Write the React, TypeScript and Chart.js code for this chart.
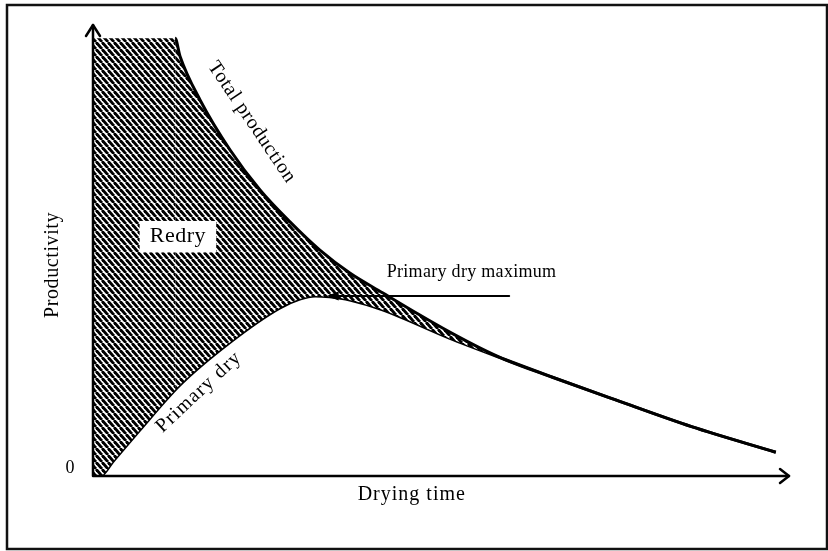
import { useEffect, useRef } from 'react';
import { Chart, registerables } from 'chart.js';
Chart.register(...registerables);

// Total production curve (arbitrary units: time 0..100, productivity 0..100)
const totalX = [0, 11.8, 12.5, 15.4, 19.7, 24.0, 28.3, 32.6, 36.9, 41.6, 46.9, 51.2, 55.5, 59.1, 66, 75, 86, 98.1];
const totalY = [97.5, 97.5, 93.5, 83.7, 72.6, 63.7, 56.6, 50.3, 45.2, 40.8, 35.9, 32.1, 28.6, 26.0, 22.0, 17.0, 11.0, 5.3];
// Primary dry curve
const primaryX = [0, 1.0, 2.9, 6.7, 12.5, 19.7, 26.8, 29.7, 31.9, 34.0, 36.9, 41.6, 51.2, 59.1, 66, 75, 86, 98.1];
const primaryY = [0, 0, 3.3, 10.2, 20.3, 29.8, 37.4, 39.4, 40.1, 39.9, 39.2, 37.0, 30.7, 26.0, 22.0, 17.0, 11.0, 5.3];

const labelTotal = 'Total production';
const labelPrimary = 'Primary dry';
const labelRedry = 'Redry';
const labelMax = 'Primary dry maximum';
const axisX = 'Drying time';
const axisY = 'Productivity';
const zeroTick = '0';

const FONT = '"Liberation Serif", "DejaVu Serif", serif';

function makePattern(): CanvasPattern | string {
  const c = document.createElement('canvas');
  const w = 6, h = 7;
  c.width = w; c.height = h;
  const g = c.getContext('2d');
  if (!g) return '#444';
  g.fillStyle = '#fff';
  g.fillRect(0, 0, w, h);
  g.strokeStyle = '#000';
  g.lineWidth = 2.8;
  for (let k = -1; k <= 1; k++) {
    g.beginPath();
    g.moveTo(k * w, 0);
    g.lineTo(k * w + w, h);
    g.stroke();
  }
  return g.createPattern(c, 'repeat') || '#444';
}

const decoPlugin = {
  id: 'deco',
  beforeDraw(chart: any) {
    const ctx = chart.ctx;
    ctx.save();
    ctx.fillStyle = '#fff';
    ctx.fillRect(0, 0, chart.width, chart.height);
    ctx.strokeStyle = '#111';
    ctx.lineWidth = 2.5;
    ctx.strokeRect(7, 5, chart.width - 8, chart.height - 7);
    ctx.restore();
  },
  afterDatasetsDraw(chart: any) {
    const ctx = chart.ctx;
    const xs = chart.scales.x;
    const ys = chart.scales.y;
    const { left, right, top, bottom } = chart.chartArea;
    ctx.save();
    ctx.strokeStyle = '#000';
    ctx.fillStyle = '#000';
    ctx.lineCap = 'round';
    ctx.lineJoin = 'round';
    // axes
    ctx.lineWidth = 2.5;
    ctx.beginPath();
    ctx.moveTo(left, bottom);
    ctx.lineTo(left, top - 2);
    ctx.moveTo(left, bottom);
    ctx.lineTo(right, bottom);
    ctx.stroke();
    // arrow heads
    ctx.lineWidth = 2.5;
    ctx.beginPath();
    ctx.moveTo(left - 7, top + 9);
    ctx.lineTo(left, top - 2);
    ctx.lineTo(left + 7, top + 9);
    ctx.stroke();
    ctx.beginPath();
    ctx.moveTo(right - 9, bottom - 7);
    ctx.lineTo(right, bottom);
    ctx.lineTo(right - 9, bottom + 7);
    ctx.stroke();

    // Redry box
    const bx0 = xs.getPixelForValue(6.7), bx1 = xs.getPixelForValue(17.7);
    const by0 = ys.getPixelForValue(56.8), by1 = ys.getPixelForValue(49.8);
    ctx.fillStyle = '#fff';
    ctx.fillRect(bx0, by0, bx1 - bx0, by1 - by0);
    ctx.fillStyle = '#000';
    ctx.font = `22px ${FONT}`;
    ctx.textAlign = 'center';
    ctx.textBaseline = 'middle';
    (ctx as any).letterSpacing = '0.5px';
    ctx.fillText(labelRedry, (bx0 + bx1) / 2, (by0 + by1) / 2);

    // Primary dry maximum annotation
    let peak = 0;
    primaryY.forEach((v, i) => { if (v > primaryY[peak]) peak = i; });
    const ay = ys.getPixelForValue(primaryY[peak]);
    const tipX = xs.getPixelForValue(34.0);
    const tailX = xs.getPixelForValue(59.8);
    ctx.lineWidth = 2;
    ctx.beginPath();
    ctx.moveTo(tailX, ay);
    ctx.lineTo(tipX + 6, ay);
    ctx.stroke();
    ctx.beginPath();
    ctx.moveTo(tipX - 3, ay);
    ctx.lineTo(tipX + 9, ay - 4.5);
    ctx.lineTo(tipX + 9, ay + 4.5);
    ctx.closePath();
    ctx.fill();
    ctx.font = `18px ${FONT}`;
    ctx.textAlign = 'left';
    ctx.textBaseline = 'middle';
    (ctx as any).letterSpacing = '0.3px';
    ctx.fillText(labelMax, xs.getPixelForValue(42.2), ys.getPixelForValue(45.4));

    // Total production label (rotated)
    ctx.save();
    ctx.translate(xs.getPixelForValue(22.8), ys.getPixelForValue(78.8));
    ctx.rotate((56 * Math.PI) / 180);
    ctx.font = `20px ${FONT}`;
    ctx.textAlign = 'center';
    (ctx as any).letterSpacing = '0.6px';
    ctx.fillText(labelTotal, 0, 0);
    ctx.restore();

    // Primary dry label (rotated)
    ctx.save();
    ctx.translate(xs.getPixelForValue(15.2), ys.getPixelForValue(18.7));
    ctx.rotate((-43 * Math.PI) / 180);
    ctx.font = `20px ${FONT}`;
    ctx.textAlign = 'center';
    (ctx as any).letterSpacing = '1.2px';
    ctx.fillText(labelPrimary, 0, 0);
    ctx.restore();

    // axis titles
    ctx.font = `20px ${FONT}`;
    (ctx as any).letterSpacing = '1px';
    ctx.textAlign = 'center';
    ctx.textBaseline = 'middle';
    ctx.fillText(axisX, xs.getPixelForValue(45.8), bottom + 19);
    ctx.save();
    ctx.translate(left - 40, ys.getPixelForValue(47));
    ctx.rotate(-Math.PI / 2);
    (ctx as any).letterSpacing = '0.6px';
    ctx.fillText(axisY, 0, 0);
    ctx.restore();
    ctx.font = `18px ${FONT}`;
    (ctx as any).letterSpacing = '0px';
    ctx.fillText(zeroTick, left - 23, ys.getPixelForValue(0) - 8);
    ctx.restore();
  },
};

export default function App() {
  const ref = useRef<HTMLCanvasElement | null>(null);
  useEffect(() => {
    if (!ref.current) return;
    const pattern = makePattern();
    const chart = new Chart(ref.current, {
      type: 'line',
      data: {
        datasets: [
          {
            label: labelTotal,
            data: totalX.map((x, i) => ({ x, y: totalY[i] })),
            borderColor: '#000',
            borderWidth: 3,
            backgroundColor: pattern as any,
            fill: '+1',
            pointRadius: 0,
            cubicInterpolationMode: 'monotone',
            segment: {
              borderColor: (c: any) => (c.p0DataIndex === 0 ? 'rgba(0,0,0,0)' : '#000'),
            },
          },
          {
            label: labelPrimary,
            data: primaryX.map((x, i) => ({ x, y: primaryY[i] })),
            borderColor: '#000',
            borderWidth: 3,
            fill: false,
            pointRadius: 0,
            cubicInterpolationMode: 'monotone',
          },
        ],
      },
      options: {
        animation: false,
        responsive: false,
        devicePixelRatio: 1,
        layout: { padding: { left: 93, right: 39, top: 27, bottom: 75 } },
        scales: {
          x: { type: 'linear', min: 0, max: 100, display: false },
          y: { type: 'linear', min: 0, max: 100, display: false },
        },
        plugins: { legend: { display: false }, tooltip: { enabled: false } },
      },
      plugins: [decoPlugin],
    });
    return () => chart.destroy();
  }, []);
  return (
    <div style={{ position: 'fixed', left: 0, top: 0, width: 828, height: 551, background: '#fff' }}>
      <canvas ref={ref} width={828} height={551} />
    </div>
  );
}
